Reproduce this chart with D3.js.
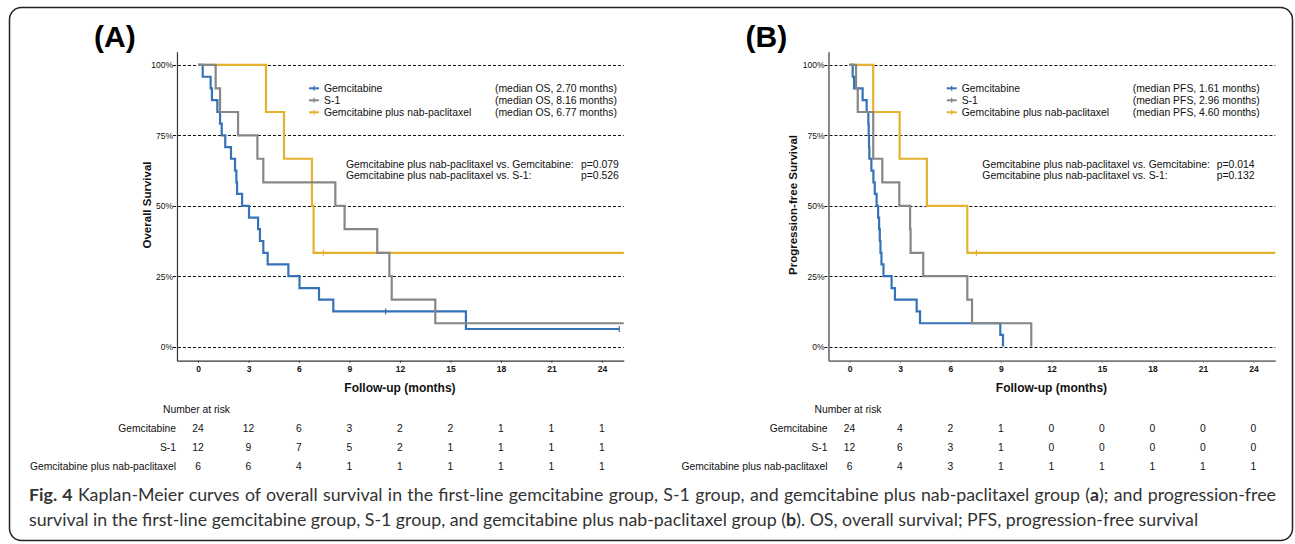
<!DOCTYPE html>
<html>
<head>
<meta charset="utf-8">
<script src="https://cdn.jsdelivr.net/npm/d3@7"></script>
<style>
  body { margin: 0; background: #fff; }
  svg { display: block; }
  .plot text { font-family: "Liberation Sans", Arial, Helvetica, sans-serif; fill: #111; }
  .caption { font-family: Lato, "Open Sans", sans-serif; fill: #333; }
</style>
</head>
<body>
<svg id="chart" width="1295" height="544"></svg>
<script>
// values
///////////////////////////////
const months = [0, 3, 6, 9, 12, 15, 18, 21, 24];
const groups = ["Gemcitabine", "S-1", "Gemcitabine plus nab-paclitaxel"];
const survTicks = [0, 0.25, 0.5, 0.75, 1];

// overall survival steps [month, survival]
const osGem = [[0,1],[0.28,0.958],[0.75,0.917],[0.83,0.875],[1.15,0.833],[1.31,0.792],[1.41,0.75],
  [1.62,0.708],[1.96,0.667],[2.2,0.625],[2.28,0.583],[2.32,0.542],[2.62,0.5],[3.03,0.458],
  [3.57,0.417],[3.68,0.375],[3.88,0.333],[4.14,0.292],[5.37,0.25],[6.03,0.208],[7.19,0.167],
  [8.04,0.125],[15.92,0.0625]];
const osS1 = [[0,1],[1.05,0.917],[1.31,0.833],[2.38,0.75],[3.53,0.667],[3.88,0.583],[8.16,0.5],
  [8.71,0.417],[10.65,0.333],[11.37,0.25],[11.51,0.167],[14.1,0.083]];
const osGnp = [[0,1],[4.04,0.833],[5.11,0.667],[6.77,0.5],[6.87,0.333]];
const osCensor = [[11.15, 25.03], [], [7.45]];
const osEnd = [25.03, 26, 26];

// progression-free survival steps
const pfsGem = [[0,1],[0.19,0.958],[0.27,0.917],[0.78,0.875],[1.02,0.833],[1.12,0.792],[1.14,0.75],
  [1.16,0.708],[1.18,0.667],[1.3,0.625],[1.42,0.583],[1.5,0.542],[1.61,0.5],[1.7,0.458],
  [1.76,0.417],[1.8,0.375],[1.84,0.333],[1.9,0.292],[2.02,0.25],[2.5,0.208],[2.7,0.167],
  [3.99,0.125],[4.19,0.083],[8.96,0.042],[9.12,0]];
const pfsS1 = [[0,1],[0.39,0.917],[0.49,0.833],[1.41,0.667],[1.95,0.583],[2.96,0.5],[3.6,0.417],
  [3.63,0.333],[4.38,0.25],[7.0,0.167],[7.28,0.083],[10.8,0]];
const pfsGnp = [[0,1],[1.41,0.833],[2.98,0.667],[4.6,0.5],[7.0,0.333]];
const pfsCensor = [[], [], [7.54]];
const pfsEnd = [9.12, 10.8, 26];

// numbers at risk
const osRisk = [[24,12,6,3,2,2,1,1,1],[12,9,7,5,2,1,1,1,1],[6,6,4,1,1,1,1,1,1]];
const pfsRisk = [[24,4,2,1,0,0,0,0,0],[12,6,3,1,0,0,0,0,0],[6,4,3,1,1,1,1,1,1]];

const osMedian = ["2.70", "8.16", "6.77"];
const pfsMedian = ["1.61", "2.96", "4.60"];
const osP = ["0.079", "0.526"];
const pfsP = ["0.014", "0.132"];

// styles
const colors = ["#3572b8", "#878787", "#e6b12e"];
const drawOrder = [2, 0, 1];

const svg = d3.select("#chart");

// outer frame
svg.append("rect")
  .attr("x", 9.5).attr("y", 7.5)
  .attr("width", 1283).attr("height", 533)
  .attr("rx", 12)
  .attr("fill", "none")
  .attr("stroke", "#222")
  .attr("stroke-width", 1.5);

function stepValue(steps, t){
  var v = 1;
  steps.forEach(function(s){ if (s[0] <= t) v = s[1]; });
  return v;
}

function drawPanel(p){
  var g = svg.append("g").attr("class", "plot");

  var x = d3.scaleLinear().domain([-1.25, 25.3]).range([p.x0 - 1.25 * 16.83, p.x0 + 25.3 * 16.83]);
  var y = d3.scaleLinear().domain([-0.05, 1.047]).range([360.7, 51.7]);
  var xl = x.range()[0], xr = x.range()[1];

  // panel letter
  g.append("text")
    .attr("x", p.x0 - 104).attr("y", 47)
    .style("font-size", "30px").style("font-weight", "bold")
    .style("fill", "#000")
    .text(p.letter);

  // dashed reference lines
  g.selectAll(".grid")
    .data(survTicks)
    .enter().append("line")
    .attr("x1", xl - 4).attr("x2", xr)
    .attr("y1", d => Math.round(y(d)) + 0.5).attr("y2", d => Math.round(y(d)) + 0.5)
    .attr("stroke", "#111")
    .attr("stroke-width", 1)
    .attr("stroke-dasharray", "3,2");

  // axes
  var yAxis = g.append("g")
    .attr("transform", "translate(" + xl + ",0)")
    .call(d3.axisLeft(y).tickValues(survTicks).tickFormat(d3.format(".0%")).tickSize(0).tickPadding(4));
  var xAxis = g.append("g")
    .attr("transform", "translate(0," + 360.7 + ")")
    .call(d3.axisBottom(x).tickValues(months).tickSizeInner(2).tickSizeOuter(0).tickPadding(3));

  [yAxis, xAxis].forEach(function(ax){
    ax.select(".domain").attr("stroke", p.axisColor).attr("stroke-width", p.axisWidth);
    ax.selectAll(".tick line").attr("stroke", p.axisColor);
    ax.selectAll("text").style("font-family", "'Liberation Sans', Arial, sans-serif")
      .style("font-size", "8.5px").attr("fill", "#111");
  });
  xAxis.selectAll("text").style("font-weight", "bold");
  yAxis.selectAll("text").attr("dy", "0.33em");

  // axis titles
  g.append("text")
    .attr("transform", "translate(" + p.ylabX + ",205) rotate(-90)")
    .attr("text-anchor", "middle")
    .attr("dy", "0.35em")
    .style("font-size", "11.5px").style("font-weight", "bold")
    .text(p.ylab);

  g.append("text")
    .attr("x", x(12)).attr("y", 392)
    .attr("text-anchor", "middle")
    .style("font-size", "12px").style("font-weight", "bold")
    .text("Follow-up (months)");

  // curves
  var line = d3.line()
    .x(d => x(Math.min(d[0], 25.3)))
    .y(d => y(d[1]))
    .curve(d3.curveStepAfter);

  drawOrder.forEach(function(i){
    var steps = p.series[i];
    var pts = steps.concat([[p.ends[i], steps[steps.length - 1][1]]]);
    g.append("path")
      .datum(pts)
      .attr("d", line)
      .attr("fill", "none")
      .attr("stroke", colors[i])
      .attr("stroke-width", 2.2);

    g.selectAll(".censor" + i)
      .data(p.censor[i])
      .enter().append("line")
      .attr("x1", d => x(d)).attr("x2", d => x(d))
      .attr("y1", d => y(stepValue(steps, d)) - 3)
      .attr("y2", d => y(stepValue(steps, d)) + 3)
      .attr("stroke", colors[i])
      .attr("stroke-width", 1.2);
  });

  // legend
  groups.forEach(function(name, i){
    var ly = 88.3 + i * 12;
    g.append("line")
      .attr("x1", p.legX - 5).attr("x2", p.legX + 5)
      .attr("y1", ly).attr("y2", ly)
      .attr("stroke", colors[i]).attr("stroke-width", 2);
    g.append("line")
      .attr("x1", p.legX).attr("x2", p.legX)
      .attr("y1", ly - 2.5).attr("y2", ly + 2.5)
      .attr("stroke", colors[i]).attr("stroke-width", 1.2);
    g.append("text")
      .attr("x", p.legX + 10).attr("y", ly + 3.7)
      .style("font-size", "10.4px")
      .text(name);
    g.append("text")
      .attr("x", p.medX).attr("y", ly + 3.7)
      .style("font-size", "10.4px")
      .text("(median " + p.tag + ", " + p.medians[i] + " months)");
  });

  // comparisons
  ["Gemcitabine", "S-1"].forEach(function(other, i){
    var py = 167.7 + i * 11.7;
    g.append("text")
      .attr("x", p.pX).attr("y", py)
      .style("font-size", "10.4px")
      .text(groups[2] + " vs. " + other + ":");
    g.append("text")
      .attr("x", p.pvX).attr("y", py)
      .style("font-size", "10.4px")
      .text("p=" + p.pvals[i]);
  });

  // number at risk table
  g.append("text")
    .attr("x", p.x0 - 35).attr("y", 412.7)
    .style("font-size", "10.3px")
    .text("Number at risk");

  groups.forEach(function(name, i){
    var ry = 432 + i * 19.2;
    g.append("text")
      .attr("x", p.x0 - 22).attr("y", ry)
      .attr("text-anchor", "end")
      .style("font-size", "10.3px")
      .text(name);
    g.selectAll(".risk" + i)
      .data(p.risk[i])
      .enter().append("text")
      .attr("x", (d, j) => x(months[j]))
      .attr("y", ry)
      .attr("text-anchor", "middle")
      .style("font-size", "10.3px")
      .text(d => d);
  });
}

drawPanel({
  letter: "(A)", x0: 198, tag: "OS", ylab: "Overall Survival", ylabX: 146.7,
  series: [osGem, osS1, osGnp], censor: osCensor, ends: osEnd,
  risk: osRisk, medians: osMedian, pvals: osP,
  legX: 314, medX: 495, pX: 346, pvX: 581,
  axisColor: "#333", axisWidth: 1.2
});

drawPanel({
  letter: "(B)", x0: 849.5, tag: "PFS", ylab: "Progression-free Survival", ylabX: 793.3,
  series: [pfsGem, pfsS1, pfsGnp], censor: pfsCensor, ends: pfsEnd,
  risk: pfsRisk, medians: pfsMedian, pvals: pfsP,
  legX: 951.7, medX: 1132.7, pX: 982.3, pvX: 1216.7,
  axisColor: "#7a7a7a", axisWidth: 1.8
});

// caption
var cap1 = svg.append("text").attr("class", "caption").attr("x", 29).attr("y", 501);
cap1.append("tspan").style("font-weight", "bold").text("Fig. 4");
cap1.append("tspan").text(" Kaplan-Meier curves of overall survival in the first-line gemcitabine group, S-1 group, and gemcitabine plus nab-paclitaxel group (");
cap1.append("tspan").style("font-weight", "bold").text("a");
cap1.append("tspan").text("); and progression-free");

var cap2 = svg.append("text").attr("class", "caption").attr("x", 29).attr("y", 526);
cap2.append("tspan").text("survival in the first-line gemcitabine group, S-1 group, and gemcitabine plus nab-paclitaxel group (");
cap2.append("tspan").style("font-weight", "bold").text("b");
cap2.append("tspan").text("). OS, overall survival; PFS, progression-free survival");

// size the caption so the second line ends where it does, then justify the first
var fs = 17;
svg.selectAll(".caption").style("font-size", fs + "px");
var len2 = cap2.node().getComputedTextLength();
fs = fs * 1170 / len2;
svg.selectAll(".caption").style("font-size", fs + "px");
var len1 = cap1.node().getComputedTextLength();
var spaces1 = cap1.text().split(" ").length - 1;
cap1.style("word-spacing", ((1247 - len1) / spaces1) + "px");
</script>
</body>
</html>
